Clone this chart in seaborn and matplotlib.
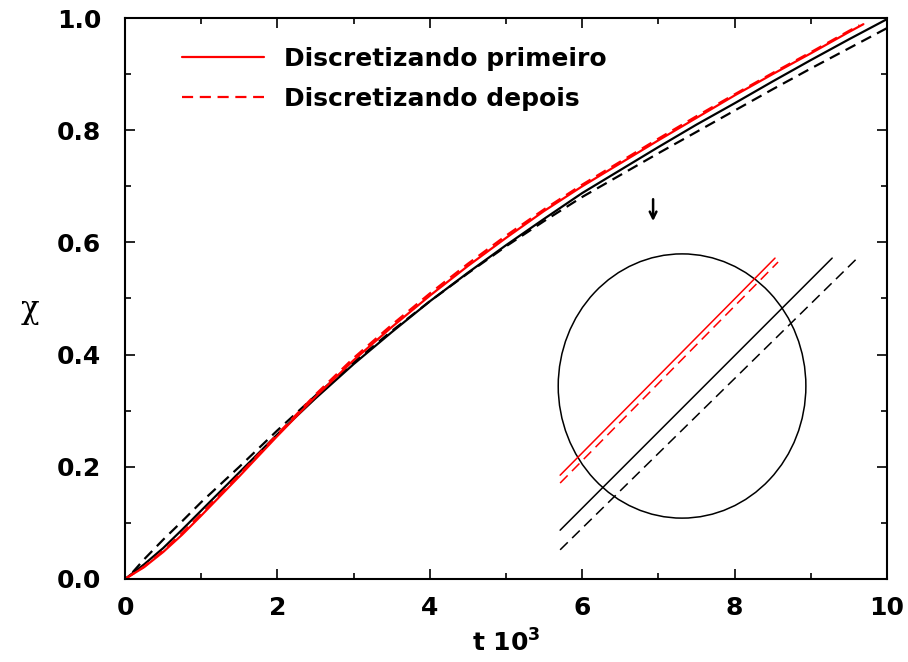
import numpy as np
import pandas as pd
import seaborn as sns
import matplotlib
matplotlib.use("Agg")
import matplotlib.pyplot as plt
from matplotlib.patches import Ellipse
from matplotlib.ticker import MultipleLocator

# --- main curves: chi versus t (in units of 10^3) ---
t_black = [0.0, 0.25, 0.5, 0.75, 1.0, 1.5, 2.0, 2.5, 3.0, 3.5, 4.0, 4.5, 5.0,
           5.5, 6.0, 6.5, 7.0, 7.5, 8.0, 8.5, 9.0, 9.5, 10.0]
chi_black_solid = [0.0, 0.026, 0.055, 0.088, 0.122, 0.190, 0.258, 0.322, 0.383,
                   0.440, 0.495, 0.546, 0.595, 0.642, 0.688, 0.729, 0.770,
                   0.810, 0.848, 0.887, 0.925, 0.962, 0.998]
t_black_dash = [0.1, 0.25, 0.5, 0.75, 1.0, 1.5, 2.0, 2.5, 3.0, 3.5, 4.0, 4.5,
                5.0, 5.5, 6.0, 6.5, 7.0, 7.5, 8.0, 8.5, 9.0, 9.5, 10.0]
chi_black_dash = [0.012, 0.035, 0.070, 0.103, 0.137, 0.200, 0.265, 0.327, 0.386,
                  0.442, 0.495, 0.545, 0.593, 0.638, 0.681, 0.720, 0.759,
                  0.797, 0.835, 0.873, 0.910, 0.946, 0.982]
t_red = [0.0, 0.25, 0.5, 0.75, 1.0, 1.5, 2.0, 2.5, 3.0, 3.5, 4.0, 4.5, 5.0,
         5.5, 6.0, 6.5, 7.0, 7.5, 8.0, 8.5, 9.0, 9.5, 9.69]
chi_red_primeiro = [0.0, 0.021, 0.048, 0.079, 0.113, 0.183, 0.255, 0.325, 0.390,
                    0.449, 0.505, 0.558, 0.608, 0.656, 0.700, 0.741, 0.782,
                    0.822, 0.862, 0.900, 0.937, 0.975, 0.989]
t_red_dash = [0.0, 0.25, 0.5, 0.75, 1.0, 1.5, 2.0, 2.5, 3.0, 3.5, 4.0, 4.5,
              5.0, 5.5, 6.0, 6.5, 7.0, 7.5, 8.0, 8.5, 9.0, 9.5, 9.64]
chi_red_depois = [0.0, 0.022, 0.050, 0.082, 0.116, 0.186, 0.258, 0.329, 0.394,
                  0.453, 0.509, 0.562, 0.612, 0.659, 0.703, 0.744, 0.785,
                  0.825, 0.864, 0.902, 0.939, 0.977, 0.987]

# --- magnified detail drawn inside the circle (segment end points) ---
zoom_x = [[5.71, 8.53], [5.71, 8.57], [5.71, 9.28], [5.71, 9.61]]
zoom_y = [[0.185, 0.572], [0.171, 0.565], [0.087, 0.572], [0.052, 0.572]]
zoom_color = ["red", "red", "black", "black"]
zoom_dashed = [False, True, False, True]
circle_center = (7.31, 0.344)
circle_size = (3.25, 0.471)
arrow_x = 6.93
arrow_y = (0.677, 0.638)

legend_labels = ["Discretizando primeiro", "Discretizando depois"]
x_ticks = [0, 2, 4, 6, 8, 10]
y_ticks = [0.0, 0.2, 0.4, 0.6, 0.8, 1.0]

sns.set_style("ticks")
plt.rcParams["font.family"] = ["DejaVu Sans"]
plt.rcParams["font.weight"] = "bold"
plt.rcParams["mathtext.fontset"] = "dejavusans"
plt.rcParams["text.color"] = "black"
plt.rcParams["axes.labelcolor"] = "black"
plt.rcParams["xtick.color"] = "black"
plt.rcParams["ytick.color"] = "black"
plt.rcParams["axes.edgecolor"] = "black"

fig = plt.figure(figsize=(9.08, 6.62), dpi=100)
ax = fig.add_axes([0.1377, 0.1254, 0.8392, 0.8474])

df = pd.concat([
    pd.DataFrame({"t": t_black, "chi": chi_black_solid, "s": "bs"}),
    pd.DataFrame({"t": t_black_dash, "chi": chi_black_dash, "s": "bd"}),
    pd.DataFrame({"t": t_red, "chi": chi_red_primeiro, "s": legend_labels[0]}),
    pd.DataFrame({"t": t_red_dash, "chi": chi_red_depois, "s": legend_labels[1]}),
])

lw = 1.6
sns.lineplot(data=df[df.s == "bs"], x="t", y="chi", color="black", lw=lw,
             ax=ax, legend=False, label="_nolegend_")
sns.lineplot(data=df[df.s == "bd"], x="t", y="chi", color="black", lw=lw,
             ax=ax, legend=False, label="_nolegend_", linestyle=(0, (5, 3)))
sns.lineplot(data=df[df.s == legend_labels[0]], x="t", y="chi", color="red",
             lw=lw, ax=ax, label=legend_labels[0])
sns.lineplot(data=df[df.s == legend_labels[1]], x="t", y="chi", color="red",
             lw=lw, ax=ax, label=legend_labels[1], linestyle=(0, (5, 3)))

# magnified view
for xs, ys, c, d in zip(zoom_x, zoom_y, zoom_color, zoom_dashed):
    ax.plot(xs, ys, color=c, lw=1.1, linestyle=(0, (7, 4)) if d else "-")
ax.add_patch(Ellipse(circle_center, circle_size[0], circle_size[1],
                     fill=False, edgecolor="black", lw=1.1))
ax.annotate("", xy=(arrow_x, arrow_y[1]), xytext=(arrow_x, arrow_y[0]),
            arrowprops=dict(arrowstyle="->", color="black", lw=1.8,
                            shrinkA=0, shrinkB=0, mutation_scale=12))

ax.set_xlim(0, 10)
ax.set_ylim(0, 1.0)
ax.set_xticks(x_ticks)
ax.set_yticks(y_ticks)
ax.set_xticklabels([str(v) for v in x_ticks])
ax.set_yticklabels([f"{v:.1f}" for v in y_ticks])
ax.xaxis.set_minor_locator(MultipleLocator(1))
ax.yaxis.set_minor_locator(MultipleLocator(0.1))
ax.tick_params(which="both", direction="in", top=True, right=True, width=1.2)
ax.tick_params(which="major", length=7)
ax.tick_params(which="minor", length=4)
ax.tick_params(axis="x", which="major", labelsize=18, pad=12)
ax.tick_params(axis="y", which="major", labelsize=18, pad=17)
for lab in ax.get_xticklabels() + ax.get_yticklabels():
    lab.set_fontweight("bold")
for sp in ax.spines.values():
    sp.set_linewidth(1.5)
    sp.set_visible(True)

ax.set_xlabel(r"t 10$^{\mathbf{3}}$", fontsize=18, fontweight="bold",
              labelpad=7)
ax.set_ylabel("χ", fontsize=22, fontweight="normal", rotation=0,
              family=["DejaVu Serif"], va="center", ha="center")
ax.yaxis.set_label_coords(-0.125, 0.48)

leg = ax.legend(loc="upper left", bbox_to_anchor=(0.045, 0.988), frameon=False,
                handlelength=3.3, handletextpad=0.8, labelspacing=0.62,
                prop={"weight": "bold", "size": 18})

fig.savefig("out.png", dpi=100, facecolor="white")
